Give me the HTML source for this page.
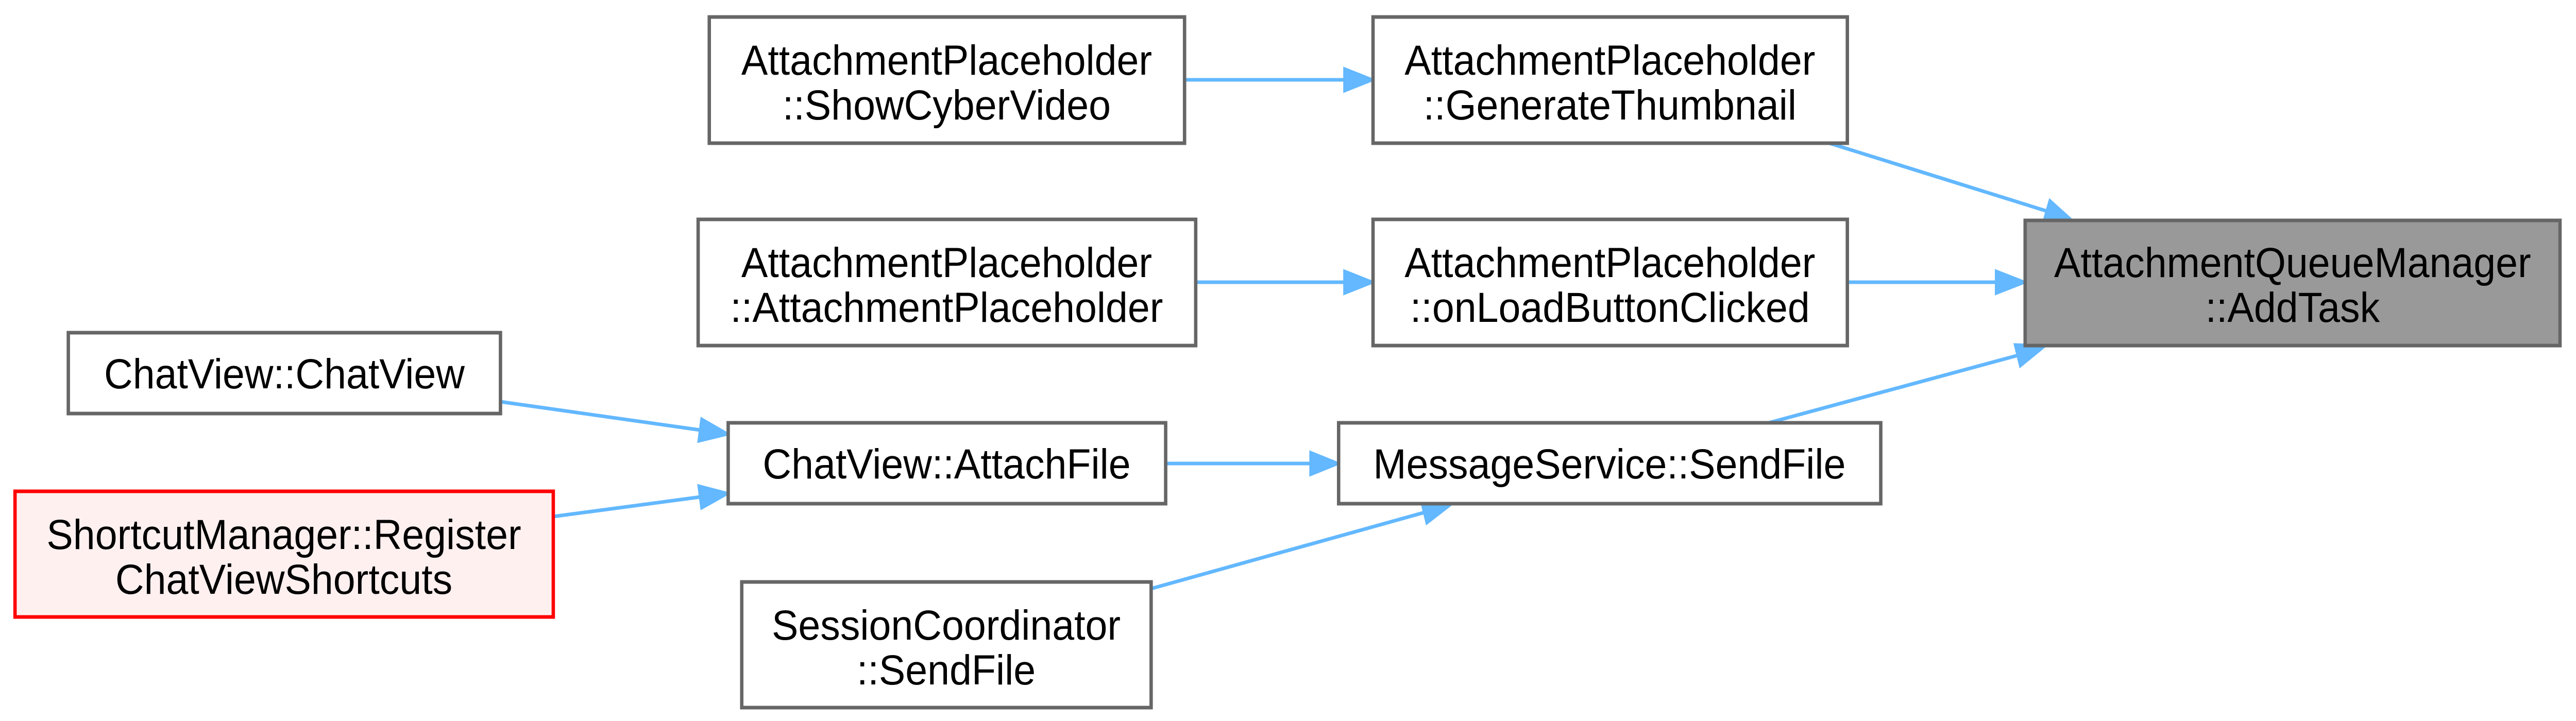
<!DOCTYPE html>
<html><head><meta charset="utf-8"><style>
html,body{margin:0;padding:0;background:#fff;width:100%;height:100%;overflow:hidden;}
svg{display:block;position:absolute;left:0;top:0;}
text{font-family:"Liberation Sans",Arial,sans-serif;font-size:82px;fill:#000;text-anchor:middle;}
</style></head><body>
<svg width="100%" height="100%" viewBox="0 0 5317 1400" preserveAspectRatio="none" xmlns="http://www.w3.org/2000/svg">
<g stroke="#63b8ff" stroke-width="7" fill="none">
<line x1="2445" y1="155" x2="2775" y2="155"/>
<line x1="2468" y1="548" x2="2775" y2="548"/>
<line x1="3813" y1="548" x2="4120" y2="548"/>
<line x1="3776" y1="278" x2="4225" y2="410"/>
<line x1="3651" y1="821" x2="4165" y2="690"/>
<line x1="2406" y1="900" x2="2705" y2="900"/>
<line x1="1033" y1="780" x2="1445" y2="835"/>
<line x1="1142" y1="1003" x2="1445" y2="965"/>
<line x1="2376" y1="1143" x2="2940" y2="995"/>
</g>
<g fill="#63b8ff" stroke="#63b8ff" stroke-width="5">
<polygon points="2834,155 2775,133 2775,177"/>
<polygon points="2834,548 2775,526 2775,570"/>
<polygon points="4180,548 4120,526 4120,570"/>
<polygon points="4277,428 4231,389 4218,431"/>
<polygon points="4222,671 4159,669 4170,711"/>
<polygon points="2763,900 2705,878 2705,922"/>
<polygon points="1503,843 1448,813 1442,857"/>
<polygon points="1503,958 1442,943 1448,987"/>
<polygon points="2997,978 2934,974 2945,1016"/>
</g>
<g stroke="#666" stroke-width="7" fill="#fff">
<rect x="1464" y="33" width="981" height="245"/>
<rect x="1441" y="426" width="1027" height="245"/>
<rect x="141" y="646" width="892" height="157"/>
<rect x="1503" y="821" width="903" height="157"/>
<rect x="1531" y="1130" width="845" height="244"/>
<rect x="2834" y="33" width="979" height="245"/>
<rect x="2834" y="426" width="979" height="245"/>
<rect x="2763" y="821" width="1119" height="157"/>
<rect x="4180" y="428" width="1104" height="243" fill="#999"/>
<rect x="31" y="954" width="1111" height="244" fill="#fff0f0" stroke="#f00"/>
</g>
<text x="1954" y="145">AttachmentPlaceholder</text>
<text x="1954" y="232">::ShowCyberVideo</text>
<text x="1954" y="538">AttachmentPlaceholder</text>
<text x="1954" y="625">::AttachmentPlaceholder</text>
<text x="587" y="754">ChatView::ChatView</text>
<text x="1954" y="929">ChatView::AttachFile</text>
<text x="586" y="1066">ShortcutManager::Register</text>
<text x="586" y="1153">ChatViewShortcuts</text>
<text x="1953" y="1242">SessionCoordinator</text>
<text x="1953" y="1329">::SendFile</text>
<text x="3323" y="145">AttachmentPlaceholder</text>
<text x="3323" y="232">::GenerateThumbnail</text>
<text x="3323" y="538">AttachmentPlaceholder</text>
<text x="3323" y="625">::onLoadButtonClicked</text>
<text x="3322" y="929">MessageService::SendFile</text>
<text x="4732" y="538">AttachmentQueueManager</text>
<text x="4732" y="625">::AddTask</text>
</svg>
</body></html>
